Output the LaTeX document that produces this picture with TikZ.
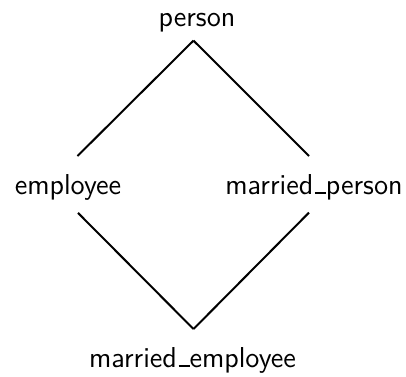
\documentclass[tikz,border=0pt]{standalone}
\usetikzlibrary{calc}
\tikzset{
	typename/.style={font=\sffamily\Large, inner sep=0pt, anchor=base}
}
\tikzset{
	isa/.style={line width=1pt}
}
\newcommand{\lowbar}{\kern0.06em\rule{0.38em}{0.07em}}
\begin{document}
\begin{tikzpicture}[x=0.5pt, y=-0.5pt]
  \useasboundingbox (0,0) rectangle (406,376);
  \node[typename] (person) at (197,26) {person};
  \node[typename] (employee) at (68,194) {employee};
  \node[typename] (marriedperson) at (314,194) {married\lowbar person};
  \node[typename] (marriedemployee) at (192.5,367) {married\lowbar employee};
  % upper half of the lattice
  \draw[isa] ([shift={(-3.5,8.6)}]person.south) -- ([shift={(9.5,-17.6)}]employee.north);
  \draw[isa] ([shift={(-3.5,8.6)}]person.south) -- ([shift={(-5,-17.6)}]marriedperson.north);
  % lower half
  \draw[isa] ([shift={(10,12.6)}]employee.south) -- ([shift={(1,-17.6)}]marriedemployee.north);
  \draw[isa] ([shift={(-5,12.6)}]marriedperson.south) -- ([shift={(1,-17.6)}]marriedemployee.north);
\end{tikzpicture}
\end{document}
